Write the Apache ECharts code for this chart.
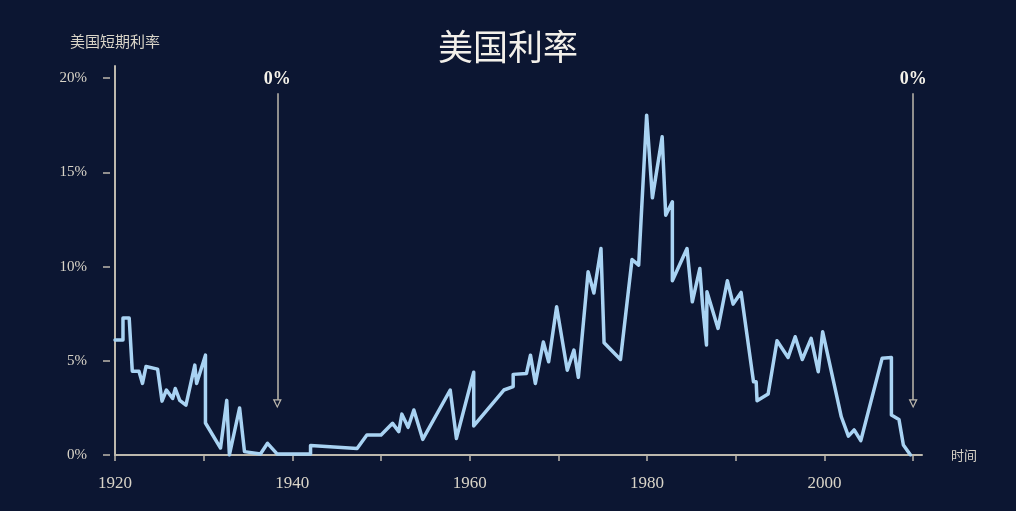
<!DOCTYPE html>
<html>
<head>
<meta charset="utf-8">
<script src="https://cdn.jsdelivr.net/npm/echarts@6/dist/echarts.min.js"></script>
<style>html,body{margin:0;padding:0;background:#0c1632;}#c{width:1016px;height:511px;}</style>
</head>
<body>
<div id="c"></div>
<script>
// Data
const years = [1920.0,1920.9,1920.9,1921.6,1921.95,1922.7,1923.1,1923.5,1924.8,1925.3,1925.8,1926.5,1926.8,1927.3,1928.0,1929.0,1929.2,1930.2,1930.2,1931.9,1932.6,1932.9,1934.05,1934.6,1936.4,1937.2,1938.3,1942.05,1942.05,1947.3,1948.4,1950.0,1951.3,1952.0,1952.35,1953.05,1953.7,1954.7,1957.8,1958.5,1960.45,1960.45,1963.85,1964.9,1964.9,1966.4,1966.85,1967.4,1968.3,1968.9,1969.8,1971.0,1971.75,1972.25,1973.35,1974.0,1974.8,1975.15,1977.0,1978.3,1979.05,1979.95,1980.6,1981.7,1982.1,1982.85,1982.85,1984.5,1985.1,1985.95,1986.25,1986.7,1986.75,1988.0,1989.05,1989.7,1990.6,1992.0,1992.3,1992.4,1993.65,1994.65,1995.9,1996.7,1997.5,1998.5,1999.3,1999.8,2001.9,2002.7,2003.35,2004.1,2006.5,2007.55,2007.55,2008.4,2008.9,2009.7];
const rates = [6.1,6.1,7.27,7.27,4.45,4.45,3.8,4.7,4.56,2.86,3.45,3.0,3.53,2.9,2.65,4.77,3.8,5.3,1.7,0.37,2.9,0.0,2.5,0.18,0.05,0.62,0.05,0.05,0.5,0.35,1.06,1.06,1.68,1.24,2.17,1.47,2.39,0.83,3.45,0.88,4.39,1.54,3.45,3.63,4.28,4.33,5.3,3.8,6.0,4.95,7.87,4.5,5.57,4.12,9.73,8.6,10.96,5.96,5.07,10.38,10.08,18.04,13.65,16.89,12.73,13.44,9.25,10.96,8.13,9.9,8.0,5.84,8.66,6.72,9.25,8.01,8.63,3.89,3.89,2.88,3.24,6.06,5.18,6.28,5.07,6.19,4.42,6.54,2.03,1.0,1.33,0.76,5.13,5.18,2.12,1.89,0.53,0.0];
const xTickValues = [1920,1930,1940,1950,1960,1970,1980,1990,2000,2010];
const xLabelValues = [1920,1940,1960,1980,2000];
const yTickValues = [0,5,10,15,20];
const zeroMarkYears = [1938.3, 2010.0];
const zeroMarkLabel = '0%';

const axisColor = '#bdb8ad';
const textColor = '#d9d4c8';
const serif = '"Liberation Serif","DejaVu Serif",serif';
const cjk = '"Noto Sans CJK SC","Noto Sans CJK JP",sans-serif';

const lineData = years.map((y, i) => [y, rates[i]]);
const hollowTri = 'path://M0,0 L10,0 L5,10 Z M2.3,1.4 L5,7.2 L7.7,1.4 Z';

const chart = echarts.init(document.getElementById('c'), null, {renderer: 'canvas'});
chart.setOption({
  backgroundColor: '#0c1632',
  animation: false,
  title: {
    text: '美国利率', left: 'center', top: 24,
    textStyle: {color: '#f3f0ea', fontSize: 35, fontWeight: 'normal', fontFamily: cjk}
  },
  grid: {left: 115, right: 94, top: 66, bottom: 56},
  xAxis: [{
    type: 'value', min: 1920, max: 2011, gridIndex: 0,
    axisLine: {show: true, lineStyle: {color: axisColor, width: 2}},
    axisTick: {show: false}, axisLabel: {show: false}, splitLine: {show: false},
    name: '时间', nameLocation: 'end', nameGap: 29,
    nameTextStyle: {color: textColor, fontSize: 13, fontFamily: cjk, verticalAlign: 'middle', padding: [3,0,0,0]}
  }, {
    type: 'value', min: 1920, max: 2011, gridIndex: 0, position: 'bottom', offset: 6,
    axisLine: {show: false},
    axisTick: {show: true, length: 6, customValues: xTickValues, lineStyle: {color: axisColor, width: 1.5}},
    axisLabel: {show: true, customValues: xLabelValues, margin: 14, color: textColor, fontSize: 17, fontFamily: serif,
                formatter: v => String(Math.round(v))},
    splitLine: {show: false}
  }],
  yAxis: [{
    type: 'value', min: 0, max: 20.65, gridIndex: 0,
    axisLine: {show: true, lineStyle: {color: axisColor, width: 2}},
    axisTick: {show: false}, axisLabel: {show: false}, splitLine: {show: false},
    name: '美国短期利率', nameLocation: 'end', nameGap: 17,
    nameTextStyle: {color: textColor, fontSize: 15, fontFamily: cjk, align: 'center'}
  }, {
    type: 'value', min: 0, max: 20.65, gridIndex: 0, position: 'left', offset: 5,
    axisLine: {show: false},
    axisTick: {show: true, length: 7, customValues: yTickValues, lineStyle: {color: axisColor, width: 1.5}},
    axisLabel: {show: true, customValues: yTickValues, margin: 23, formatter: '{value}%', color: textColor, fontSize: 15, fontFamily: serif},
    splitLine: {show: false}
  }],
  series: [{
    type: 'line', xAxisIndex: 0, yAxisIndex: 0,
    data: lineData, showSymbol: false, symbol: 'none',
    lineStyle: {color: '#a9d3f3', width: 3.5, join: 'round', cap: 'round'},
    silent: true,
    markLine: {
      silent: true, symbol: ['none', 'none'],
      lineStyle: {color: axisColor, width: 1.5, type: 'solid'},
      label: {show: true, position: 'start', formatter: zeroMarkLabel, distance: 5,
              color: '#f5f2ea', fontSize: 18, fontWeight: 'bold', fontFamily: serif},
      data: zeroMarkYears.map(y => [{coord: [y, 19.2]}, {coord: [y, 2.93]}])
    },
    markPoint: {
      silent: true, symbol: hollowTri, symbolSize: [9, 9],
      itemStyle: {color: axisColor},
      label: {show: false},
      data: zeroMarkYears.map(y => ({coord: [y, 2.72]}))
    }
  }]
});
</script>
</body>
</html>
